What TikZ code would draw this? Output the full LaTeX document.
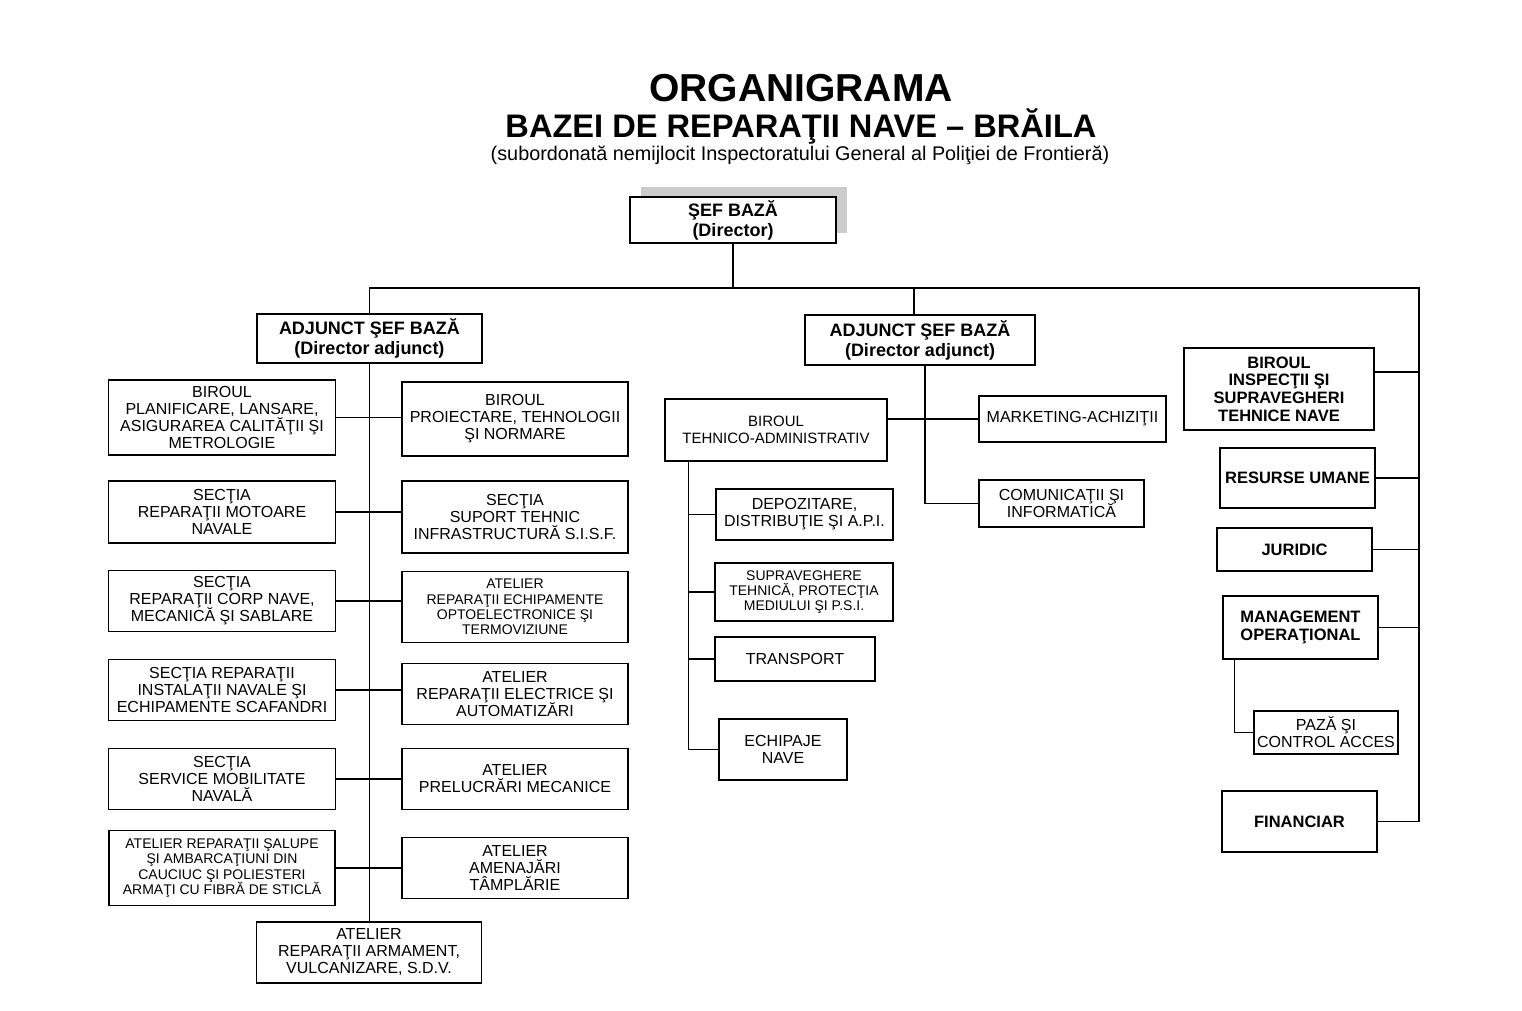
\documentclass[tikz,border=0pt]{standalone}
\usepackage{fontspec}
\setmainfont{Liberation Sans}
\usetikzlibrary{positioning,shadows}
\setlength{\lineskiplimit}{-10pt}

\begin{document}
\begin{tikzpicture}[
            x=1pt, y=-1pt,
            node distance=89pt,
            unit/.style={rectangle, draw=black, line width=1.4pt, fill=white, align=center, inner sep=1pt, font=\fontsize{16}{17}\selectfont},
            smallunit/.style={unit, font=\fontsize{14}{15.4}\selectfont},
            boldunit/.style={unit, font=\bfseries\fontsize{16.5}{17.6}\selectfont},
            chief/.style={unit, font=\bfseries\fontsize{18}{20}\selectfont},
            conn/.style={line width=1.3pt}
        ]
        \useasboundingbox (0,0) rectangle (1522,1010);

        % Titlu
        \node (title) [anchor=base, font=\bfseries\fontsize{39}{44}\selectfont] at (801,101) {ORGANIGRAMA};
        \node (subtitle) [anchor=base, font=\bfseries\fontsize{32.6}{36}\selectfont] at (801,137) {BAZEI DE REPARAŢII NAVE – BRĂILA};
        \node (note) [anchor=base, font=\fontsize{19.8}{22}\selectfont] at (800,160) {(subordonată nemijlocit Inspectoratului General al Poliţiei de Frontieră)};

        % Conducere
        \node (sef) [chief, minimum width=206pt, minimum height=46pt, drop shadow={shadow xshift=11pt, shadow yshift=10pt, fill=gray!40, opacity=1}] at (733,220) {ŞEF BAZĂ\\(Director)};
        \node (adj1) [chief, minimum width=225pt, minimum height=49pt, below of=sef, xshift=-363.5pt, yshift=-29.5pt] {ADJUNCT ŞEF BAZĂ\\(Director adjunct)};
        \node (adj2) [chief, minimum width=230pt, minimum height=50pt, below of=sef, xshift=187pt, yshift=-31pt] {ADJUNCT ŞEF BAZĂ\\(Director adjunct)};

        % Coloana stanga
        \node (l1) [unit, minimum width=227pt, minimum height=75pt, below of=adj1, xshift=-147.5pt, yshift=10pt] {BIROUL\\PLANIFICARE, LANSARE,\\ASIGURAREA CALITĂŢII ŞI\\METROLOGIE};
        \node (l2) [unit, minimum width=227pt, minimum height=62pt, below of=l1, yshift=-5.5pt] {SECŢIA\\REPARAŢII MOTOARE\\NAVALE};
        \node (l3) [unit, minimum width=227pt, minimum height=61pt, below of=l2] {SECŢIA\\REPARAŢII CORP NAVE,\\MECANICĂ ŞI SABLARE};
        \node (l4) [unit, minimum width=227pt, minimum height=61pt, below of=l3] {SECŢIA REPARAŢII\\INSTALAŢII NAVALE ŞI\\ECHIPAMENTE SCAFANDRI};
        \node (l5) [unit, minimum width=227pt, minimum height=61pt, below of=l4] {SECŢIA\\SERVICE MOBILITATE\\NAVALĂ};
        \node (l6) [smallunit, minimum width=226pt, minimum height=75pt, below of=l5] {ATELIER REPARAŢII ŞALUPE\\ŞI AMBARCAŢIUNI DIN\\CAUCIUC ŞI POLIESTERI\\ARMAŢI CU FIBRĂ DE STICLĂ};
        \node (arm) [unit, minimum width=225pt, minimum height=61pt, below of=l6, xshift=147pt, yshift=4.5pt] {ATELIER\\REPARAŢII ARMAMENT,\\VULCANIZARE, S.D.V.};

        % Coloana dreapta
        \node (r1) [unit, minimum width=226pt, minimum height=74pt, node distance=293pt, right of=l1, yshift=-1.5pt] {BIROUL\\PROIECTARE, TEHNOLOGII\\ŞI NORMARE};
        \node (r2) [unit, minimum width=226pt, minimum height=72pt, node distance=293pt, right of=l2, yshift=-5pt] {SECŢIA\\SUPORT TEHNIC\\INFRASTRUCTURĂ S.I.S.F.};
        \node (r3) [smallunit, minimum width=226pt, minimum height=71pt, node distance=293pt, right of=l3, yshift=-6pt] {ATELIER\\REPARAŢII ECHIPAMENTE\\OPTOELECTRONICE ŞI\\TERMOVIZIUNE};
        \node (r4) [unit, minimum width=226pt, minimum height=61pt, node distance=293pt, right of=l4, yshift=-4pt] {ATELIER\\REPARAŢII ELECTRICE ŞI\\AUTOMATIZĂRI};
        \node (r5) [unit, minimum width=226pt, minimum height=61pt, node distance=293pt, right of=l5] {ATELIER\\PRELUCRĂRI MECANICE};
        \node (r6) [unit, minimum width=226pt, minimum height=61pt, node distance=293pt, right of=l6] {ATELIER\\AMENAJĂRI\\TÂMPLĂRIE};

        % Ramura tehnico-administrativa
        \node (bta) [unit, font=\fontsize{15}{17}\selectfont, minimum width=222pt, minimum height=62pt, below of=adj2, xshift=-144pt, yshift=-1pt] {BIROUL\\TEHNICO-ADMINISTRATIV};
        \node (mkt) [unit, minimum width=187pt, minimum height=46pt, node distance=296.5pt, right of=bta, yshift=11pt] {MARKETING-ACHIZIŢII};
        \node (com) [unit, minimum width=165pt, minimum height=47pt, below of=mkt, xshift=-11pt, yshift=4.5pt] {COMUNICAŢII ŞI\\INFORMATICĂ};
        \node (d1) [unit, minimum width=177pt, minimum height=51pt, below of=bta, xshift=28.5pt, yshift=4.5pt] {DEPOZITARE,\\DISTRIBUŢIE ŞI A.P.I.};
        \node (d2) [smallunit, minimum width=178pt, minimum height=58pt, below of=d1, xshift=-0.5pt, yshift=11.5pt] {SUPRAVEGHERE\\TEHNICĂ, PROTECŢIA\\MEDIULUI ŞI P.S.I.};
        \node (d3) [unit, minimum width=160pt, minimum height=44pt, below of=d2, xshift=-9pt, yshift=22pt] {TRANSPORT};
        \node (d4) [unit, minimum width=128pt, minimum height=61pt, below of=d3, xshift=-12pt, yshift=-1.5pt] {ECHIPAJE\\NAVE};

        % Compartimente subordonate direct
        \node (b1) [boldunit, minimum width=190pt, minimum height=82pt, node distance=206.5pt, right of=mkt, yshift=30pt] {BIROUL\\INSPECŢII ŞI\\SUPRAVEGHERI\\TEHNICE NAVE};
        \node (ru) [boldunit, minimum width=155pt, minimum height=60pt, below of=b1, xshift=18.5pt] {RESURSE UMANE};
        \node (jur) [boldunit, minimum width=155pt, minimum height=43pt, below of=ru, xshift=-3pt, yshift=17.5pt] {JURIDIC};
        \node (mo) [boldunit, minimum width=155pt, minimum height=63pt, below of=jur, xshift=6pt, yshift=11pt] {MANAGEMENT\\OPERAŢIONAL};
        \node (paz) [unit, minimum width=144pt, minimum height=43pt, below of=mo, xshift=25.5pt, yshift=-16pt] {PAZĂ ŞI\\CONTROL ACCES};
        \node (fin) [boldunit, minimum width=155pt, minimum height=61pt, below of=paz, xshift=-26.5pt] {FINANCIAR};

        % Legaturi
        \draw [conn] (sef.south) -- ++(0,45) coordinate (top);
        \coordinate (rbus) at (1419,288);
        \draw [conn] (adj1.north) |- (rbus) |- (fin.east);
        \draw [conn] (adj2.north) ++(-6,0) coordinate (a2top) -- (a2top |- top);

        \draw [conn] (adj1.south) -- (adj1.south |- arm.north);
        \foreach \i in {1,...,6} \draw [conn] (l\i.east) -- (l\i.east -| r\i.west);

        \draw [conn] (adj2.south) ++(5,0) coordinate (a2bot) |- (com.west);
        \draw [conn] (mkt.west) -- (mkt.west -| bta.east);
        \draw [conn] (bta.south west) ++(24,0) coordinate (tspine) |- (d4.west);
        \foreach \n in {d1,d2,d3} \draw [conn] (\n.west) -- (\n.west -| tspine);

        \draw [conn] (b1.east) ++(0,-17) coordinate (b1c) -- (b1c -| rbus);
        \foreach \n in {ru,jur,mo} \draw [conn] (\n.east) -- (\n.east -| rbus);
        \draw [conn] (mo.south west) ++(12,0) coordinate (moc) |- (paz.west);

    \end{tikzpicture}
\end{document}
